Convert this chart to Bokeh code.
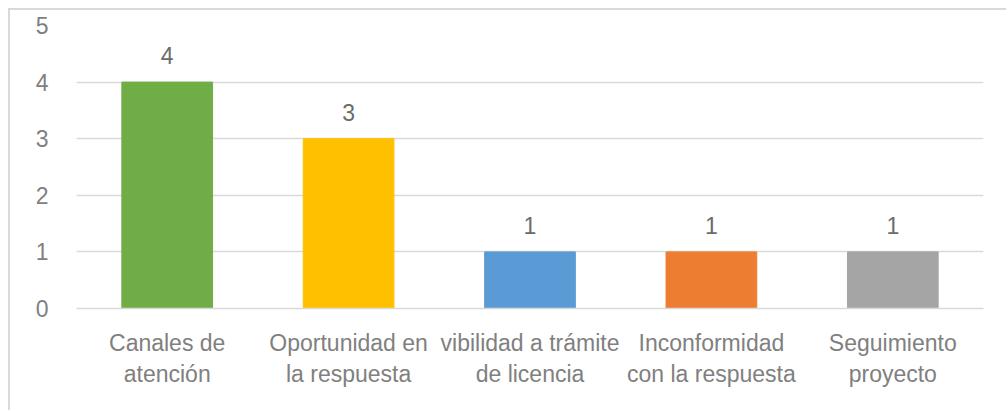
from bokeh.plotting import figure
from bokeh.models import ColumnDataSource, Range1d, LabelSet, FixedTicker
from bokeh.core.properties import value
from bokeh.embed import file_html
from bokeh.resources import INLINE

categories = ["Canales de\natención", "Oportunidad en\nla respuesta", "vibilidad a trámite\nde licencia",
              "Inconformidad\ncon la respuesta", "Seguimiento\nproyecto"]
values = [4, 3, 1, 1, 1]
colors = ["#70AD47", "#FFC000", "#5B9BD5", "#ED7D31", "#A5A5A5"]
y_ticks = [0, 1, 2, 3, 4, 5]

FONT = "Liberation Sans"
SIZE = "23px"
GRAY = "#808080"
GRID = "#D9D9D9"

src = ColumnDataSource(dict(cat=categories, val=values, color=colors,
                            lbl=[str(v) for v in values]))

p = figure(x_range=categories, y_range=Range1d(0, 5), width=998, height=402,
           output_backend="svg", toolbar_location=None,
           min_border_left=66, min_border_right=25, min_border_top=15, min_border_bottom=104)
p.styles = {"margin-left": "8px", "margin-top": "8px",
            "border-left": "2px solid #D9D9D9", "border-top": "2px solid #D9D9D9"}

p.vbar(x="cat", top="val", width=0.5, color="color", source=src)

labels = LabelSet(x="cat", y="val", text="lbl", source=src, text_align="center",
                  text_baseline="bottom", y_offset=18, text_font_size=SIZE,
                  text_color="#6B6B6B", text_font=value(FONT))
p.add_layout(labels)

p.outline_line_color = None
p.xgrid.grid_line_color = None
p.ygrid.grid_line_color = GRID
p.ygrid.grid_line_width = 1.5
p.yaxis.ticker = FixedTicker(ticks=y_ticks)

for ax in (p.xaxis[0], p.yaxis[0]):
    ax.major_tick_line_color = None
    ax.minor_tick_line_color = None
    ax.major_label_text_font_size = SIZE
    ax.major_label_text_color = GRAY
    ax.major_label_text_font = FONT

p.yaxis.axis_line_color = None
p.yaxis.major_label_standoff = 22
p.xaxis.axis_line_color = GRID
p.xaxis.axis_line_width = 1.5
p.xaxis.major_label_standoff = 15

open("out.html", "w").write(file_html(p, INLINE))
